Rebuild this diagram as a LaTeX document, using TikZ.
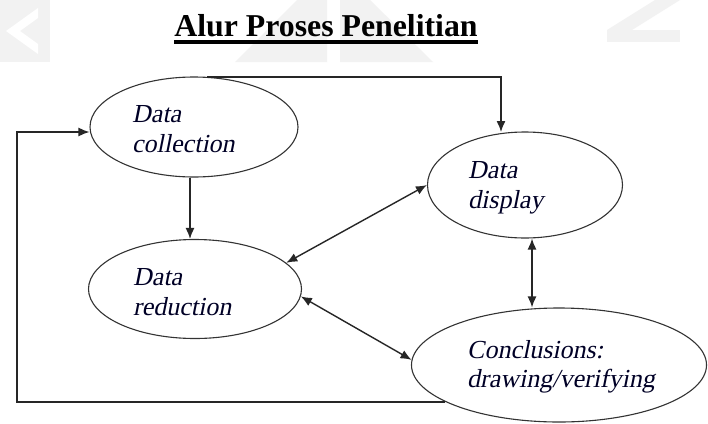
\documentclass[tikz,border=0pt]{standalone}
\usepackage{fontspec}
\setmainfont{Liberation Serif}
\newfontfamily\labelfont{Liberation Serif}[FakeSlant=0.2]
\usetikzlibrary{shapes.geometric,arrows.meta,calc}
\begin{document}
\begin{tikzpicture}[x=1pt,y=-1pt,
  ell/.style={ellipse,draw=black!80,line width=1.1pt,inner sep=0pt},
  lbl/.style={anchor=base west,inner sep=0pt,font=\fontsize{26}{30}\labelfont,text=black!85!blue},
  arr/.style={draw=black!85,line width=1.4pt,-{Latex[length=11pt,width=9pt]}},
  darr/.style={draw=black!85,line width=1.4pt,{Latex[length=11pt,width=9pt]}-{Latex[length=11pt,width=9pt]}},
  wm/.style={fill=black!5,draw=none}]
\useasboundingbox (0,0) rectangle (708,423);
\fill[white] (0,0) rectangle (708,423);
% faint watermark
\fill[wm] (0,0) -- (50,0) -- (50,62) -- (0,62) -- cycle;
\fill[white] (38,8) -- (6,31) -- (38,54) -- (38,44) -- (20,31) -- (38,18) -- cycle;
\fill[wm] (235,62) -- (327,62) -- (327,0) -- (297,0) -- cycle;
\fill[wm] (340,62) -- (433,62) -- (370,0) -- (340,0) -- cycle;
\fill[wm] (607,30) -- (655,0) -- (680,0) -- (632,30) -- cycle;
\fill[wm] (607,30) -- (680,30) -- (680,42) -- (607,42) -- cycle;
% title
\node[anchor=base,inner sep=0pt,font=\fontsize{31.8}{36}\selectfont\bfseries] (title) at (326,36) {Alur Proses Penelitian};
\draw[line width=3.5pt] ([yshift=-6pt]title.base west) -- ([yshift=-6pt]title.base east);
% ellipses
\node[ell,minimum width=208pt,minimum height=100pt] (dc) at (194,127) {};
\node[ell,minimum width=213pt,minimum height=99pt] (dr) at (195,289) {};
\node[ell,minimum width=195pt,minimum height=106pt] (dd) at (525,185) {};
\node[ell,minimum width=295pt,minimum height=114pt] (cv) at (559,365) {};
% labels
\node[lbl] (dc1) at (132,122) {Data};
\node[lbl] (dc2) at (132,152) {collection};
\node[lbl] (dr1) at (133,285) {Data};
\node[lbl] (dr2) at (133,315) {reduction};
\node[lbl] (dd1) at (468,178) {Data};
\node[lbl] (dd2) at (468,208) {display};
\node[lbl] (cv1) at (467,358) {Conclusions:};
\node[lbl] (cv2) at (467,387) {drawing/verifying};
% connectors
\coordinate (lt) at (17,132);
\coordinate (tr) at (501,77);
\coordinate (xa) at (190,0);
\coordinate (xb) at (532,0);
\draw[arr] (dc.south -| xa) -- (dr.north -| xa);
\draw[arr] (dc.75) -- (dc.75 -| tr) -- (tr |- dd.105);
\draw[arr] (cv.198) -| (lt) -- (lt -| dc.west);
\draw[darr] (dd.west) -- (dr.16);
\draw[darr] (dr.-4) -- (cv.178);
\draw[darr] (dd.south -| xb) -- (cv.north -| xb);
\end{tikzpicture}
\end{document}
